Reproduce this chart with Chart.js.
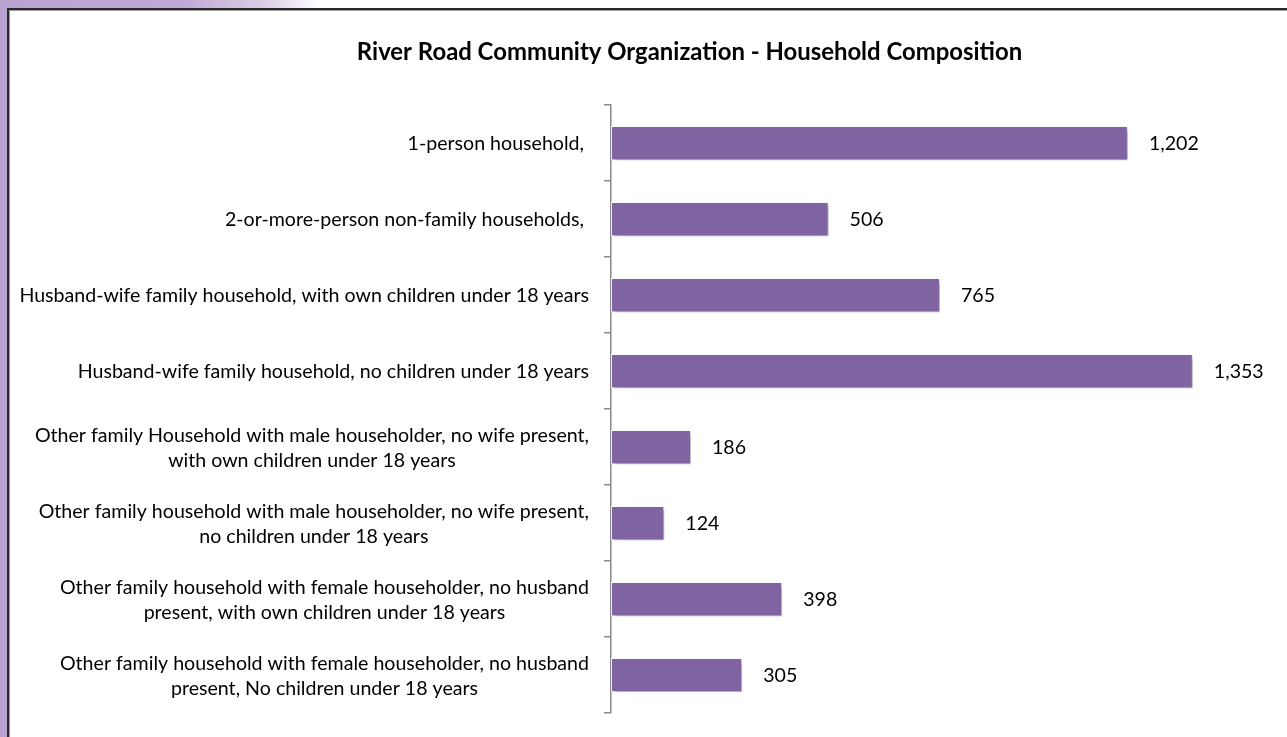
<!DOCTYPE html>
<html>
<head>
<meta charset="utf-8">
<script src="https://cdn.jsdelivr.net/npm/chart.js@4/dist/chart.umd.min.js"></script>
<style>
  html, body { margin: 0; padding: 0; width: 1287px; height: 737px; overflow: hidden; }
  body { background: linear-gradient(to right, #b9a3d0 0px, #bfaad4 180px, #d8cde5 260px, #ffffff 320px); position: relative; }
  #frame { position: absolute; left: 7px; top: 8px; width: 1290px; height: 740px; background: #fff; border-left: 2px solid #2a2a2a; border-top: 2px solid #2a2a2a; box-shadow: inset 1px 1px 0 #9a9a9a; }
  #c { position: absolute; left: 0; top: 0; }
</style>
</head>
<body>
<div id="frame"></div>
<canvas id="c" width="1287" height="737"></canvas>
<script>
const chartTitle = "River Road Community Organization - Household Composition";
const categories = [
  ["1-person household, "],
  ["2-or-more-person non-family households, "],
  ["Husband-wife family household, with own children under 18 years"],
  ["Husband-wife family household, no children under 18 years"],
  ["Other family Household with male householder, no wife present,", "with own children under 18 years"],
  ["Other family household with male householder, no wife present,", "no children under 18 years"],
  ["Other family household with female householder, no husband", "present, with own children under 18 years"],
  ["Other family household with female householder, no husband", "present, No children under 18 years"]
];
const households = [1202, 506, 765, 1353, 186, 124, 398, 305];

const FONT = "Lato, 'Open Sans', sans-serif";
const LABEL_SIZE = 19.6;

const barShadow = {
  id: 'barShadow',
  beforeDatasetsDraw(chart) {
    const ctx = chart.ctx;
    ctx.save();
    ctx.shadowColor = 'rgba(0,0,0,0.35)';
    ctx.shadowBlur = 4;
    ctx.shadowOffsetX = 2;
    ctx.shadowOffsetY = 3;
  },
  afterDatasetsDraw(chart) {
    chart.ctx.restore();
  }
};

const sideLabels = {
  id: 'sideLabels',
  afterDraw(chart) {
    const ctx = chart.ctx;
    const y = chart.scales.y;
    const x = chart.scales.x;
    ctx.save();
    ctx.fillStyle = '#000';
    ctx.font = LABEL_SIZE + 'px ' + FONT;
    ctx.textBaseline = 'middle';
    const rightEdge = x.left - 22;
    const lh = 25;
    chart.data.labels.forEach((lines, i) => {
      const cy = y.getPixelForTick(i) + 1;
      const maxW = Math.max(...lines.map(l => ctx.measureText(l).width));
      const cx = rightEdge - maxW / 2;
      ctx.textAlign = 'center';
      lines.forEach((l, j) => {
        const ly = cy + (j - (lines.length - 1) / 2) * lh;
        ctx.fillText(l, cx, ly);
      });
    });
    const meta = chart.getDatasetMeta(0);
    ctx.textAlign = 'left';
    chart.data.datasets[0].data.forEach((v, i) => {
      const bar = meta.data[i];
      ctx.fillText(v.toLocaleString('en-US'), x.getPixelForValue(v) + 21, bar.y + 1);
    });
    ctx.restore();
  }
};

new Chart(document.getElementById('c'), {
  type: 'bar',
  data: {
    labels: categories,
    datasets: [{
      data: households,
      backgroundColor: '#8064A2',
      borderColor: 'rgba(255,255,255,0.85)',
      borderWidth: 1,
      borderSkipped: false,
      barPercentage: 0.45,
      categoryPercentage: 1.0
    }]
  },
  options: {
    indexAxis: 'y',
    responsive: false,
    animation: false,
    layout: { padding: { left: 92, right: 0, top: 0, bottom: 24 } },
    plugins: {
      legend: { display: false },
      tooltip: { enabled: false },
      title: {
        display: true,
        text: chartTitle,
        color: '#000',
        font: { family: FONT, size: 23.9, weight: 'bold' },
        padding: { top: 38, bottom: 38.5 }
      }
    },
    scales: {
      x: {
        display: false,
        min: 0,
        max: 1572
      },
      y: {
        ticks: { display: false },
        grid: {
          offset: true,
          drawOnChartArea: false,
          drawTicks: true,
          tickLength: 7,
          color: '#8a8a8a',
          lineWidth: 1.5
        },
        border: { display: true, color: '#8a8a8a', width: 1.5 },
        afterFit(scale) { scale.width = 611 - 92; }
      }
    }
  },
  plugins: [barShadow, sideLabels]
});
</script>
</body>
</html>
